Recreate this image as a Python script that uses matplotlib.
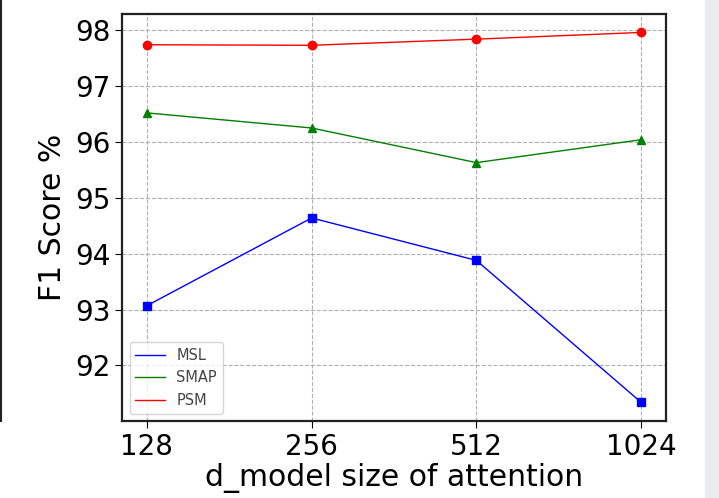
import matplotlib.pyplot as plt
from matplotlib.lines import Line2D
from matplotlib.patches import Rectangle

d_model = ['128', '256', '512', '1024']
msl = [93.07, 94.64, 93.88, 91.34]
smap = [96.52, 96.25, 95.63, 96.04]
psm = [97.74, 97.73, 97.84, 97.96]
y_ticks = [92, 93, 94, 95, 96, 97, 98]

fig = plt.figure(figsize=(7.19, 4.98), dpi=100)
ax = fig.add_axes([0.170, 0.155, 0.756, 0.817])

x = range(len(d_model))
ax.plot(x, msl, color='blue', marker='s', markersize=6, linewidth=1)
ax.plot(x, smap, color='green', marker='^', markersize=6, linewidth=1)
ax.plot(x, psm, color='red', marker='o', markersize=6, linewidth=1)

ax.set_xticks(list(x))
ax.set_xticklabels(d_model)
ax.set_yticks(y_ticks)
ax.tick_params(labelsize=20, length=5)
ax.set_xlabel('d_model size of attention', fontsize=21.5, labelpad=2)
ax.set_ylabel('F1 Score %', fontsize=21.5, labelpad=6)
ax.grid(True, linestyle='--', color='#b0b0b0', linewidth=0.8)
for s in ax.spines.values():
    s.set_linewidth(1.6)
    s.set_color('#222222')

handles = [Line2D([], [], color='blue', linewidth=1),
           Line2D([], [], color='green', linewidth=1),
           Line2D([], [], color='red', linewidth=1)]
leg = ax.legend(handles, ['MSL', 'SMAP', 'PSM'], loc='lower left', fontsize=10.5)
for t in leg.get_texts():
    t.set_color('#444444')

# edge of the neighbouring panel and the page margin
fig.add_artist(Line2D([0.002, 0.002], [1.0, 0.155], color='#222222', linewidth=1.5,
                      transform=fig.transFigure))
fig.add_artist(Rectangle((0.981, 0), 0.019, 1, color='#eaedf0',
                         transform=fig.transFigure, zorder=-1))

fig.savefig('out.png', dpi=100)
